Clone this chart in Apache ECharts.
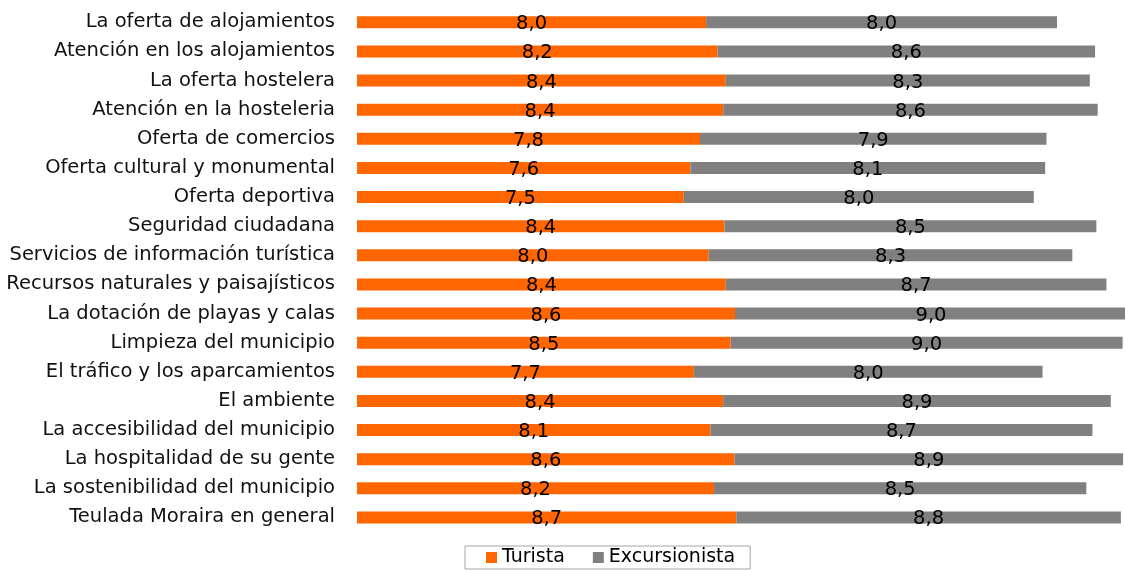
<!DOCTYPE html>
<html>
<head>
<meta charset="utf-8">
<script src="https://cdn.jsdelivr.net/npm/echarts@6/dist/echarts.min.js"></script>
<style>
  html, body { margin: 0; padding: 0; background: #fff; }
  #valoracion { width: 1125px; height: 570px; }
</style>
</head>
<body>
<div id="valoracion"></div>
<script>
  const categorias = [
    "La oferta de alojamientos",
    "Atención en los alojamientos",
    "La oferta hostelera",
    "Atención en la hosteleria",
    "Oferta de comercios",
    "Oferta cultural y monumental",
    "Oferta deportiva",
    "Seguridad ciudadana",
    "Servicios de información turística",
    "Recursos naturales y paisajísticos",
    "La dotación de playas y calas",
    "Limpieza del municipio",
    "El tráfico y los aparcamientos",
    "El ambiente",
    "La accesibilidad del municipio",
    "La hospitalidad de su gente",
    "La sostenibilidad del municipio",
    "Teulada Moraira en general",
  ];
  const turista = [
    7.98, 8.24, 8.43, 8.37, 7.84, 7.62, 7.47, 8.4, 8.04,
    8.43, 8.64, 8.54, 7.7, 8.37, 8.08, 8.63, 8.16, 8.67,
  ];
  const excursionista = [
    8.02, 8.63, 8.32, 8.56, 7.92, 8.11, 8.0, 8.5, 8.31,
    8.7, 8.96, 8.96, 7.97, 8.86, 8.73, 8.88, 8.51, 8.79,
  ];

  const fuente = "DejaVu Sans";
  const formatoComa = (p) => p.value.toFixed(1).replace(".", ",");

  const chart = echarts.init(document.getElementById("valoracion"));
  chart.setOption({
    animation: false,
    textStyle: { fontFamily: fuente },
    grid: {
      left: 357,
      top: 7.7,
      width: 787.5,
      height: 524.3,
      containLabel: false,
      outerBoundsMode: "none",
    },
    legend: {
      data: ["Turista", "Excursionista"],
      left: 465,
      top: 546,
      orient: "horizontal",
      itemWidth: 11,
      itemHeight: 11,
      itemGap: 28,
      icon: "rect",
      borderColor: "#a6a6a6",
      borderWidth: 1,
      padding: [2, 15, 2, 21],
      textStyle: { color: "#000", fontSize: 19, fontFamily: fuente },
    },
    xAxis: {
      type: "value",
      min: 0,
      max: 18,
      show: false,
    },
    yAxis: {
      type: "category",
      inverse: true,
      data: categorias,
      axisLine: { show: false },
      axisTick: { show: false },
      splitLine: { show: false },
      axisLabel: {
        color: "#111",
        fontSize: 19.5,
        fontFamily: fuente,
        margin: 22,
      },
    },
    series: [
      {
        name: "Turista",
        type: "bar",
        stack: "Total",
        barWidth: 12,
        itemStyle: { color: "#ff6600" },
        label: {
          show: true,
          position: "inside",
          color: "#000",
          fontSize: 19.5,
          fontFamily: fuente,
          offset: [0, 2],
          formatter: formatoComa,
        },
        data: turista,
      },
      {
        name: "Excursionista",
        type: "bar",
        stack: "Total",
        barWidth: 12,
        itemStyle: { color: "#808080" },
        label: {
          show: true,
          position: "inside",
          color: "#000",
          fontSize: 19.5,
          fontFamily: fuente,
          offset: [0, 2],
          formatter: formatoComa,
        },
        data: excursionista,
      },
    ],
  });
</script>
</body>
</html>
